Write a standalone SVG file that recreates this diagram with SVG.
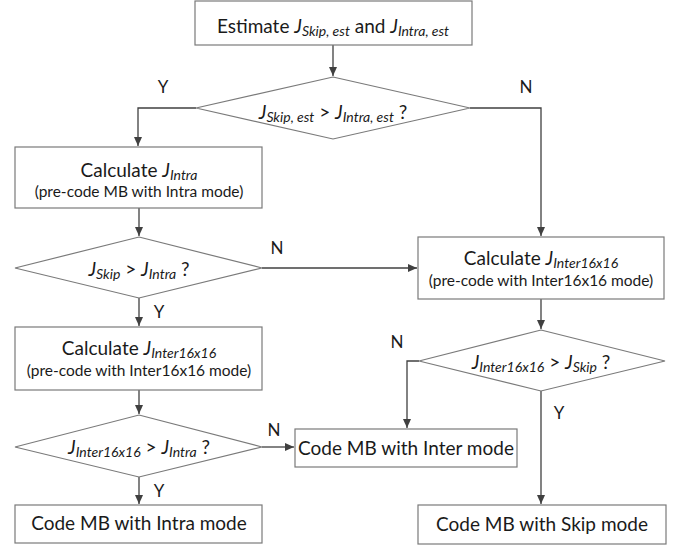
<svg xmlns="http://www.w3.org/2000/svg" width="681" height="550" viewBox="0 0 681 550">
<style>
.box{fill:#fff;stroke:#7a7a7a;stroke-width:1.2}
.con{fill:none;stroke:#404040;stroke-width:1.3}
text{font-family:Lato,"Open Sans","Liberation Sans",sans-serif;fill:#1a1a1a;font-size:19px;text-anchor:middle}
.small{font-size:15.5px}
.lbl{font-size:17px}
.i{font-style:italic}
.s{font-style:italic;font-size:14px}
</style>
<defs>
<marker id="ah" markerWidth="10" markerHeight="10" refX="9" refY="5" orient="auto" markerUnits="userSpaceOnUse">
<path d="M0,1 L9,5 L0,9 Z" fill="#404040"/>
</marker>
</defs>
<rect width="681" height="550" fill="#fff"/>
<g id="connectors">
<path class="con" d="M333,45 V76" marker-end="url(#ah)"/>
<path class="con" d="M196,108 H138 V146" marker-end="url(#ah)"/>
<path class="con" d="M470,108 H541 V236" marker-end="url(#ah)"/>
<path class="con" d="M139,208 V236" marker-end="url(#ah)"/>
<path class="con" d="M262,268 H417" marker-end="url(#ah)"/>
<path class="con" d="M139,298 V326" marker-end="url(#ah)"/>
<path class="con" d="M541,299 V329" marker-end="url(#ah)"/>
<path class="con" d="M139,390 V414" marker-end="url(#ah)"/>
<path class="con" d="M419,361 H407 V428" marker-end="url(#ah)"/>
<path class="con" d="M262,447 H294" marker-end="url(#ah)"/>
<path class="con" d="M139,477 V504" marker-end="url(#ah)"/>
<path class="con" d="M541,391 V504" marker-end="url(#ah)"/>
<text class="lbl" x="163" y="93">Y</text>
<text class="lbl" x="526" y="93">N</text>
<text class="lbl" x="277" y="254">N</text>
<text class="lbl" x="159" y="318">Y</text>
<text class="lbl" x="397" y="348">N</text>
<text class="lbl" x="559" y="419">Y</text>
<text class="lbl" x="274" y="436">N</text>
<text class="lbl" x="159" y="497">Y</text>
</g>
<g id="n1">
<rect class="box" x="195" y="1" width="277" height="44"/>
<text x="333" y="33">Estimate <tspan class="i">J</tspan><tspan class="s" dy="3">Skip, est</tspan><tspan dy="-3"> and </tspan><tspan class="i">J</tspan><tspan class="s" dy="3">Intra, est</tspan></text>
</g>
<g id="d1">
<polygon class="box" points="333,77 470,108 333,139 196,108"/>
<text x="333" y="119"><tspan class="i">J</tspan><tspan class="s" dy="3">Skip, est</tspan><tspan dy="-3"> &gt; </tspan><tspan class="i">J</tspan><tspan class="s" dy="3">Intra, est</tspan><tspan dy="-3"> ?</tspan></text>
</g>
<g id="n2">
<rect class="box" x="15" y="147" width="247" height="61"/>
<text x="139" y="177">Calculate <tspan class="i">J</tspan><tspan class="s" dy="3">Intra</tspan></text>
<text class="small" x="139" y="197">(pre-code MB with Intra mode)</text>
</g>
<g id="d2">
<polygon class="box" points="139,237 262,268 139,298 15,268"/>
<text x="139" y="276"><tspan class="i">J</tspan><tspan class="s" dy="3">Skip</tspan><tspan dy="-3"> &gt; </tspan><tspan class="i">J</tspan><tspan class="s" dy="3">Intra</tspan><tspan dy="-3"> ?</tspan></text>
</g>
<g id="n3">
<rect class="box" x="418" y="237" width="246" height="62"/>
<text x="541" y="265">Calculate <tspan class="i">J</tspan><tspan class="s" dy="3">Inter16x16</tspan></text>
<text class="small" x="541" y="286">(pre-code with Inter16x16 mode)</text>
</g>
<g id="d3">
<polygon class="box" points="541,330 665,361 541,391 419,361"/>
<text x="541" y="369"><tspan class="i">J</tspan><tspan class="s" dy="3">Inter16x16</tspan><tspan dy="-3"> &gt; </tspan><tspan class="i">J</tspan><tspan class="s" dy="3">Skip</tspan><tspan dy="-3"> ?</tspan></text>
</g>
<g id="n4">
<rect class="box" x="15" y="327" width="247" height="63"/>
<text x="139" y="355">Calculate <tspan class="i">J</tspan><tspan class="s" dy="3">Inter16x16</tspan></text>
<text class="small" x="139" y="376">(pre-code with Inter16x16 mode)</text>
</g>
<g id="d4">
<polygon class="box" points="139,415 262,447 139,477 15,447"/>
<text x="139" y="454"><tspan class="i">J</tspan><tspan class="s" dy="3">Inter16x16</tspan><tspan dy="-3"> &gt; </tspan><tspan class="i">J</tspan><tspan class="s" dy="3">Intra</tspan><tspan dy="-3"> ?</tspan></text>
</g>
<g id="n5">
<rect class="box" x="295" y="429" width="222" height="38"/>
<text x="406" y="455">Code MB with Inter mode</text>
</g>
<g id="n6">
<rect class="box" x="15" y="505" width="247" height="38"/>
<text x="139" y="530">Code MB with Intra mode</text>
</g>
<g id="n7">
<rect class="box" x="418" y="505" width="248" height="39"/>
<text x="542" y="531">Code MB with Skip mode</text>
</g>
</svg>
